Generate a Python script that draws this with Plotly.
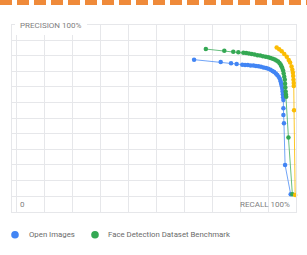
import plotly.graph_objects as go

# ---- data ----
series_names = ["Open Images", "Face Detection Dataset Benchmark", "Other"]
series_colors = ["#4285F4", "#34A853", "#FBBC04"]

blue_recall = [0.636, 0.731, 0.768, 0.788, 0.808, 0.818, 0.828, 0.838, 0.848, 0.857,
               0.866, 0.875, 0.884, 0.893, 0.901, 0.909, 0.916, 0.922, 0.928, 0.933,
               0.938, 0.942, 0.945, 0.947, 0.949, 0.951, 0.952, 0.953, 0.954, 0.955,
               0.955, 0.955, 0.957, 0.961, 0.981]
blue_precision = [0.874, 0.859, 0.851, 0.846, 0.842, 0.840, 0.839, 0.837, 0.836, 0.834,
                  0.831, 0.828, 0.824, 0.820, 0.815, 0.809, 0.802, 0.795, 0.786, 0.776,
                  0.765, 0.751, 0.735, 0.720, 0.705, 0.688, 0.670, 0.652, 0.633, 0.615,
                  0.562, 0.519, 0.466, 0.199, 0.011]

green_recall = [0.678, 0.744, 0.776, 0.794, 0.812, 0.822, 0.832, 0.842, 0.852, 0.862,
                0.872, 0.882, 0.892, 0.901, 0.909, 0.917, 0.924, 0.930, 0.936, 0.941,
                0.945, 0.948, 0.951, 0.954, 0.956, 0.958, 0.960, 0.961, 0.962, 0.963,
                0.964, 0.965, 0.973, 0.987]
green_precision = [0.942, 0.931, 0.925, 0.921, 0.919, 0.916, 0.913, 0.910, 0.907, 0.903,
                   0.900, 0.896, 0.893, 0.889, 0.885, 0.880, 0.875, 0.869, 0.862, 0.853,
                   0.843, 0.832, 0.820, 0.805, 0.785, 0.765, 0.745, 0.720, 0.695, 0.670,
                   0.650, 0.637, 0.375, 0.011]

yellow_recall = [0.931, 0.940, 0.949, 0.958, 0.967, 0.974, 0.979, 0.984, 0.987, 0.989,
                 0.990, 0.991, 0.992, 0.992, 0.993, 0.997]
yellow_precision = [0.952, 0.940, 0.928, 0.910, 0.893, 0.872, 0.856, 0.830, 0.810, 0.790,
                    0.770, 0.745, 0.725, 0.705, 0.550, 0.007]

axis_labels = {"y_top": "PRECISION 100%", "x_min": "0", "x_max": "RECALL 100%"}

# ---- figure ----
W, H = 307, 255
ML, MR, MT, MB = 12, 11, 25, 43
plot_w, plot_h = W - ML - MR, H - MT - MB

def px_x(p):
    return (p - ML) / plot_w

def px_y(p):
    return (H - MB - p) / plot_h

fig = go.Figure()
line_rgba = ["rgba(66,133,244,0.75)", "rgba(52,168,83,0.75)", "rgba(251,188,4,0.85)"]
for xs, ys, name, col, lc in [
    (blue_recall, blue_precision, series_names[0], series_colors[0], line_rgba[0]),
    (green_recall, green_precision, series_names[1], series_colors[1], line_rgba[1]),
    (yellow_recall, yellow_precision, series_names[2], series_colors[2], line_rgba[2]),
]:
    fig.add_trace(go.Scatter(
        x=xs, y=ys, name=name, mode="lines+markers",
        line=dict(color=lc, width=1),
        marker=dict(color=col, size=4.5),
        showlegend=False, hoverinfo="skip", cliponaxis=False,
    ))

grid = "#e6e7ea"
fig.update_xaxes(range=[-4 / 280, 1.0], tick0=0, dtick=0.1, showgrid=True, gridcolor=grid,
                 gridwidth=1, zeroline=False, showticklabels=False, ticks="",
                 showline=True, linecolor=grid, linewidth=1, mirror=True)
fig.update_yaxes(range=[-16 / 156, 171 / 156], tick0=0, dtick=0.1, showgrid=True, gridcolor=grid,
                 gridwidth=1, zeroline=False, showticklabels=False, ticks="",
                 showline=True, linecolor=grid, linewidth=1, mirror=True)

txt_font = dict(family="Roboto", size=8, color="#808080")
annotations = [
    dict(text=axis_labels["y_top"], xref="paper", yref="paper", x=px_x(15), y=1.0,
         xanchor="left", yanchor="middle", showarrow=False, font=txt_font,
         bgcolor="white", borderpad=5, borderwidth=0),
    dict(text=axis_labels["x_min"], xref="paper", yref="paper", x=px_x(22), y=px_y(204),
         xanchor="center", yanchor="middle", showarrow=False, font=txt_font),
    dict(text=axis_labels["x_max"], xref="paper", yref="paper", x=px_x(292), y=px_y(204),
         xanchor="right", yanchor="middle", showarrow=False, font=txt_font),
]

shapes = [
    # orange dashed decoration at top
    dict(type="line", xref="paper", yref="paper", x0=px_x(0), x1=px_x(W), y0=px_y(2.6), y1=px_y(2.6),
         line=dict(color="#ef8a3a", width=5, dash="12px,5px")),
]

# manual legend (first two series)
legend_items = [(15, 27), (95, 105.5)]
for (dot_x, text_x), name, col in zip(legend_items, series_names[:2], series_colors[:2]):
    cy = px_y(234.7)
    shapes.append(dict(type="circle", xref="paper", yref="paper", xsizemode="pixel",
                       ysizemode="pixel", xanchor=px_x(dot_x), yanchor=cy,
                       x0=-3.8, x1=3.8, y0=-3.8, y1=3.8, fillcolor=col, line=dict(width=0)))
    annotations.append(dict(text=name, xref="paper", yref="paper", x=px_x(text_x), y=cy,
                            xanchor="left", yanchor="middle", showarrow=False,
                            font=dict(family="Roboto", size=7.8, color="#6a6a6a")))

fig.update_layout(
    width=W, height=H, margin=dict(l=ML, r=MR, t=MT, b=MB, pad=0),
    paper_bgcolor="white", plot_bgcolor="white",
    annotations=annotations, shapes=shapes, showlegend=False,
)

fig.write_html("out.html", config={"displayModeBar": False, "staticPlot": True},
               post_script="document.body.style.margin='0';document.body.style.overflow='hidden';")
